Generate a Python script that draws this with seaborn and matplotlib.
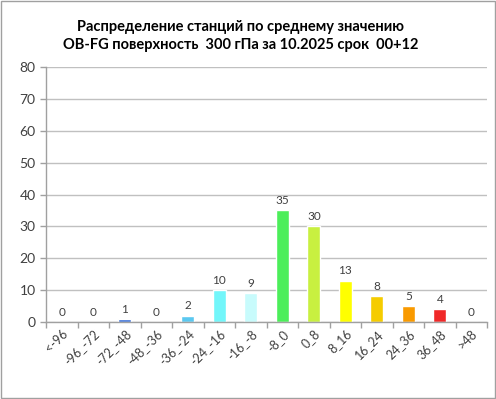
import numpy as np
import matplotlib
matplotlib.use("Agg")
import matplotlib.pyplot as plt
import seaborn as sns
from matplotlib.patches import Rectangle

# данные
categories = ['<-96', '-96_-72', '-72_-48', '-48_-36', '-36_-24', '-24_-16', '-16_-8',
              '-8_0', '0_8', '8_16', '16_24', '24_36', '36_48', '>48']
counts = [0, 0, 1, 0, 2, 10, 9, 35, 30, 13, 8, 5, 4, 0]
colors = ['#3a6fd8', '#3a6fd8', '#3a6fd8', '#5bc8f0', '#5bc8f0', '#72f6fa', '#c8fbfc',
          '#4cee5a', '#c8f040', '#ffff00', '#f5cc00', '#f99a00', '#f02828', '#f02828']
title = "Распределение станций по среднему значению\nOB-FG поверхность  300 гПа за 10.2025 срок  00+12"

sns.set_theme(style="white")
plt.rcParams['font.family'] = ['Lato', 'DejaVu Sans']
txt = '#404040'

fig = plt.figure(figsize=(4.96, 3.99), dpi=100)
ax = fig.add_axes([0.093, 0.193, 0.889, 0.639])

sns.barplot(x=categories, y=counts, hue=categories, palette=colors, legend=False,
            width=0.42, ax=ax, saturation=1)

for c in ax.containers:
    ax.bar_label(c, padding=3, fontsize=8.5, color=txt)

ax.set_ylim(0, 80)
ax.set_yticks(np.arange(0, 81, 10))
ax.set_xlim(-0.5, len(categories) - 0.5)
ax.yaxis.grid(True, color='#c0c0c0', linewidth=1)
ax.set_axisbelow(True)

for s in ['top', 'right']:
    ax.spines[s].set_visible(False)
for s in ['left', 'bottom']:
    ax.spines[s].set_color('#a0a0a0')
    ax.spines[s].set_linewidth(1)

# деления между категориями, как в Excel
ax.set_xticks(np.arange(-0.5, len(categories), 1.0), minor=True)
ax.tick_params(axis='x', which='minor', length=4, color='#a0a0a0', width=1, bottom=True)
ax.tick_params(axis='x', which='major', length=0, pad=4)
ax.tick_params(axis='y', length=4, color='#a0a0a0', width=1, left=True, labelsize=10, labelcolor=txt)
ax.set_xticks(range(len(categories)))
ax.set_xticklabels(categories, rotation=45, ha='right', rotation_mode='anchor',
                   fontsize=9, color=txt)
ax.set_xlabel('')
ax.set_ylabel('')

fig.text(0.485, 0.91, title, ha='center', va='center', fontsize=10.5,
         fontweight='bold', color='black', linespacing=1.4)

fig.patches.append(Rectangle((0.002, 0.002), 0.996, 0.996, transform=fig.transFigure,
                             fill=False, edgecolor='#a0a0a0', linewidth=1))

fig.savefig('out.png', dpi=100)
